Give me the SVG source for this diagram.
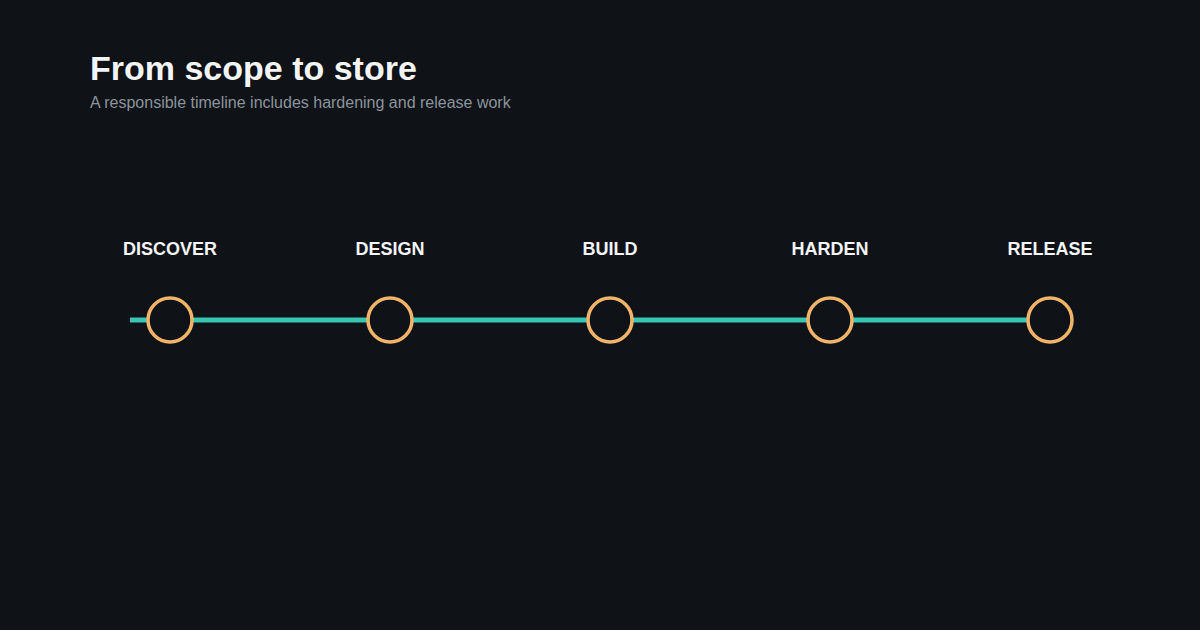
<svg xmlns="http://www.w3.org/2000/svg" width="1200" height="630" viewBox="0 0 1200 630">
<style>
.t{font-family:"Liberation Sans",Arial,sans-serif;font-weight:bold;font-size:34px;fill:#f3f5f7}
.s{font-family:"Liberation Sans",Arial,sans-serif;font-size:16px;fill:#8b949c}
.l{font-family:"Liberation Sans",Arial,sans-serif;font-weight:bold;font-size:18px;fill:#f3f5f7;text-anchor:middle}
.n{fill:#0f1216;stroke:#f0b46a;stroke-width:3.5}
</style>
<rect width="1200" height="630" fill="#0f1216"/>
<text class="t" x="90" y="80">From scope to store</text>
<text class="s" x="90" y="108">A responsible timeline includes hardening and release work</text>
<g id="connectors">
<line x1="130" y1="320" x2="1050" y2="320" stroke="#3cc4b4" stroke-width="5"/>
</g>
<g id="discover"><text class="l" x="170" y="255">DISCOVER</text><circle class="n" cx="170" cy="320" r="22"/></g>
<g id="design"><text class="l" x="390" y="255">DESIGN</text><circle class="n" cx="390" cy="320" r="22"/></g>
<g id="build"><text class="l" x="610" y="255">BUILD</text><circle class="n" cx="610" cy="320" r="22"/></g>
<g id="harden"><text class="l" x="830" y="255">HARDEN</text><circle class="n" cx="830" cy="320" r="22"/></g>
<g id="release"><text class="l" x="1050" y="255">RELEASE</text><circle class="n" cx="1050" cy="320" r="22"/></g>
</svg>
